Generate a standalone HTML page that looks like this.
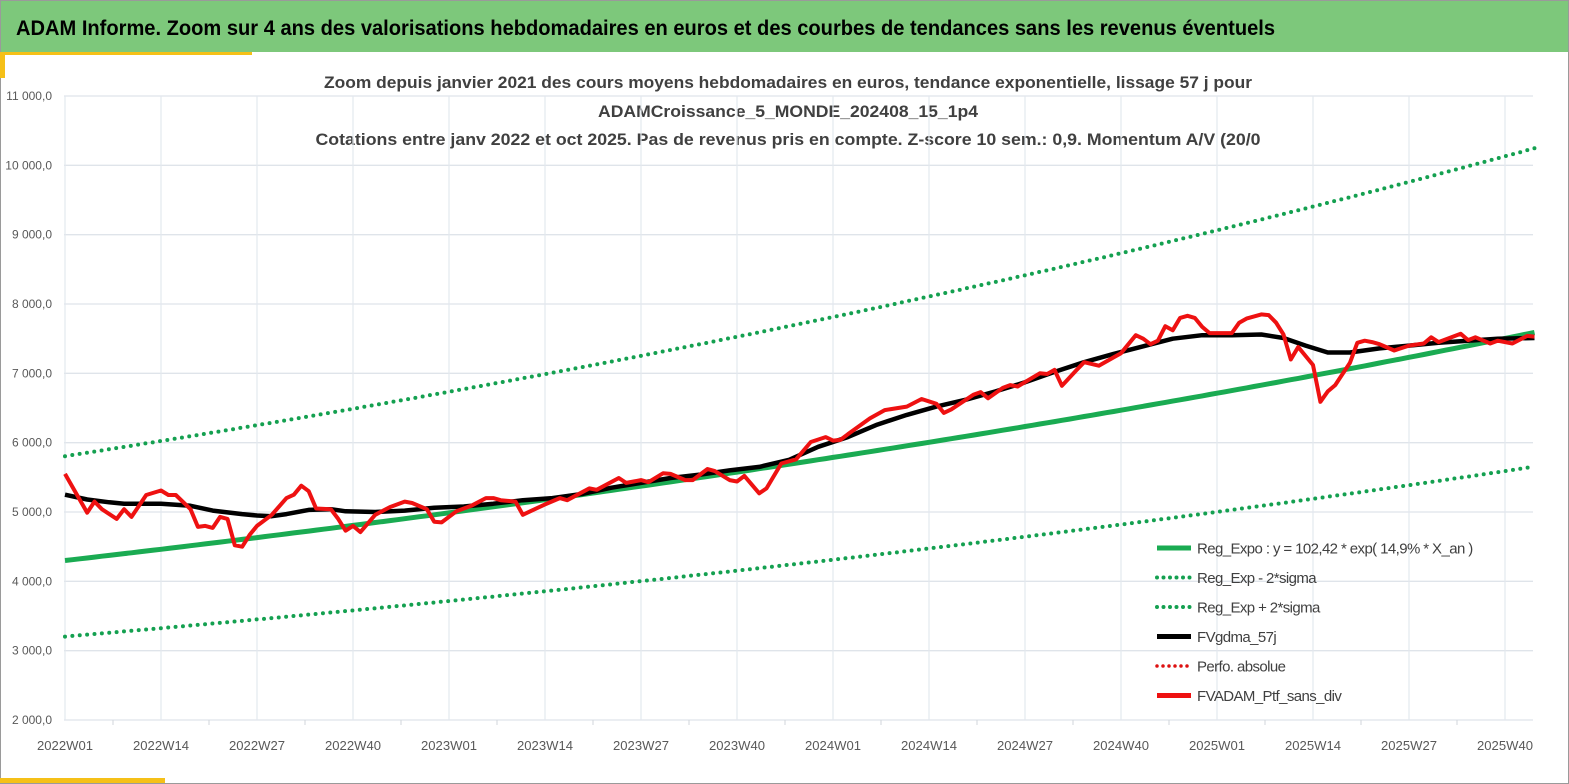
<!DOCTYPE html>
<html><head><meta charset="utf-8"><style>
html,body{margin:0;padding:0;background:#fff;}
svg{display:block;font-family:"Liberation Sans",sans-serif;}
</style></head><body>
<svg id="chart" width="1569" height="784" viewBox="0 0 1569 784">
<rect x="0.5" y="0.5" width="1568" height="783" fill="#fff" stroke="#9a9a9a"/>
<rect x="1" y="1" width="1567" height="51" fill="#7dc87b"/>
<text x="16" y="35" font-size="21" font-weight="bold" fill="#000" textLength="1259" lengthAdjust="spacingAndGlyphs">ADAM Informe. Zoom sur 4 ans des valorisations hebdomadaires en euros et des courbes de tendances sans les revenus éventuels</text>
<rect x="0" y="52" width="252" height="3" fill="#f5c018"/>
<rect x="0" y="52" width="5" height="26" fill="#f5c018"/>
<rect x="0" y="778" width="165" height="5" fill="#f5c018"/>
<g fill="#404040" font-weight="bold" font-size="16.5" text-anchor="middle">
<text x="788" y="88" textLength="928" lengthAdjust="spacingAndGlyphs">Zoom depuis janvier 2021 des cours moyens hebdomadaires  en euros, tendance exponentielle, lissage 57 j pour</text>
<text x="788" y="117" textLength="380" lengthAdjust="spacingAndGlyphs">ADAMCroissance_5_MONDE_202408_15_1p4</text>
<text x="788" y="145" textLength="945" lengthAdjust="spacingAndGlyphs">Cotations entre janv 2022 et oct 2025. Pas de revenus pris en compte. Z-score 10 sem.: 0,9. Momentum A/V (20/0</text>
</g>
<g id="grid"></g>
<g id="axes"></g>
<g id="series"></g>
<g id="legend"></g>
</svg>
<script>
const yTicks=[2000,3000,4000,5000,6000,7000,8000,9000,10000,11000];
const yTickLabels=["2 000,0","3 000,0","4 000,0","5 000,0","6 000,0","7 000,0","8 000,0","9 000,0","10 000,0","11 000,0"];
const xTickWeeks=[0,13,26,39,52,65,78,91,104,117,130,143,156,169,182,195];
const xTickLabels=["2022W01","2022W14","2022W27","2022W40","2023W01","2023W14","2023W27","2023W40","2024W01","2024W14","2024W27","2024W40","2025W01","2025W14","2025W27","2025W40"];
const lastWeek=199;
const regBase=[4300];
const regRatePerYear=[0.149];
const bandUpFactor=[1.35];
const bandLowFactor=[0.745];
const redWeeks=[0,3,4,5,7,8,9,11,13,14,15,17,18,19,20,21,22,23,24,25,26,28,30,31,32,33,34,36,37,38,39,40,42,44,46,47,49,50,51,53,55,57,58,59,61,62,63,65,67,68,71,72,75,76,78,79,81,82,84,85,87,88,90,91,92,94,95,97,99,101,103,104,105,106,109,111,114,116,118,119,120,123,124,125,127,128,129,132,133,134,135,137,138,140,142,143,145,146,147,148,149,150,151,152,153,154,155,158,159,160,162,163,164,165,166,167,169,170,171,172,174,175,176,177,178,180,182,184,185,186,189,190,191,193,194,196,198,199];
const redValues=[5550,4990,5150,5040,4900,5040,4930,5245,5310,5245,5245,5040,4785,4800,4770,4930,4900,4520,4500,4670,4800,4960,5200,5250,5380,5300,5050,5040,4900,4730,4800,4710,4960,5070,5150,5130,5040,4860,4850,5010,5090,5200,5200,5170,5150,4960,5010,5110,5200,5170,5340,5320,5490,5420,5460,5430,5560,5550,5460,5460,5620,5590,5460,5440,5520,5270,5340,5700,5760,6010,6080,6030,6040,6120,6350,6470,6520,6630,6560,6430,6480,6690,6730,6640,6790,6830,6810,7000,6990,7050,6820,7050,7160,7110,7230,7290,7550,7500,7420,7470,7680,7620,7800,7830,7800,7670,7580,7580,7730,7790,7850,7840,7730,7560,7200,7380,7120,6590,6740,6830,7150,7440,7470,7450,7420,7330,7400,7430,7520,7450,7570,7480,7520,7430,7470,7430,7540,7530];
const maWeeks=[0,3,6,8,13,17,20,24,26,28,30,33,36,38,42,46,50,54,58,62,66,70,74,78,82,86,90,94,98,102,106,110,114,118,122,126,130,134,138,142,146,150,154,158,162,165,168,171,174,178,182,186,190,194,199];
const maValues=[5250,5180,5140,5120,5120,5090,5020,4970,4950,4940,4970,5030,5040,5010,5000,5020,5060,5080,5120,5170,5200,5260,5350,5420,5490,5540,5600,5650,5750,5940,6080,6260,6400,6520,6620,6740,6870,7020,7160,7280,7390,7500,7550,7550,7560,7510,7400,7300,7300,7360,7400,7440,7470,7500,7510];
const legendLabels=["Reg_Expo : y = 102,42 * exp( 14,9% *  X_an )","Reg_Exp - 2*sigma","Reg_Exp + 2*sigma","FVgdma_57j","Perfo. absolue","FVADAM_Ptf_sans_div"];

const NS="http://www.w3.org/2000/svg";
const X0=65, PX_PER_WEEK=96/13, PL=64, PR=1533, PT=96, PB=720;
function xs(w){return X0+w*PX_PER_WEEK;}
function ys(v){return PB-(v-2000)/9000*(PB-PT);}
function mk(tag,attrs,parent){const e=document.createElementNS(NS,tag);for(const k in attrs)e.setAttribute(k,attrs[k]);parent.appendChild(e);return e;}
const grid=document.getElementById('grid'),axes=document.getElementById('axes'),series=document.getElementById('series'),legend=document.getElementById('legend');

yTicks.forEach((v,i)=>{
  const l=mk('line',{x1:PL,x2:PR,y1:ys(v),y2:ys(v),stroke:'#dfe4ea','stroke-width':1.3},grid);
  
  
  const t=mk('text',{x:52,y:ys(v)+4,'text-anchor':'end','font-size':12,fill:'#595959'},axes);
  t.textContent=yTickLabels[i];
  
  
});
xTickWeeks.forEach((w,i)=>{
  const l=mk('line',{x1:xs(w),x2:xs(w),y1:PT,y2:PB,stroke:'#e3e8ee','stroke-width':1.2},grid);
  
  
  if(xs(w+6.5)<PR){
    const m=mk('line',{x1:xs(w+6.5),x2:xs(w+6.5),y1:PB,y2:PB+5,stroke:'#d0d5db','stroke-width':1},grid);
    
    
  }
  const t=mk('text',{x:xs(w),y:750,'text-anchor':'middle','font-size':12.5,fill:'#595959',textLength:56,lengthAdjust:'spacingAndGlyphs'},axes);
  t.textContent=xTickLabels[i];
  
  
});

function regVal(w,f){return regBase[0]*f*Math.exp(regRatePerYear[0]*w/52.18);}
function regPts(f){const p=[];for(let w=0;w<=lastWeek;w++)p.push(xs(w).toFixed(1)+','+ys(regVal(w,f)).toFixed(1));return p.join(' ');}
const dot={fill:'none',stroke:'#14a050','stroke-width':4,'stroke-linecap':'round','stroke-dasharray':'0 7.4'};
const up=mk('polyline',Object.assign({points:regPts(bandUpFactor[0])},dot),series);


const lo=mk('polyline',Object.assign({points:regPts(bandLowFactor[0])},dot),series);


const reg=mk('polyline',{points:regPts(1),fill:'none',stroke:'#1aab52','stroke-width':5,'stroke-linejoin':'round'},series);


const ma=mk('polyline',{points:maWeeks.map((w,i)=>xs(w).toFixed(1)+','+ys(maValues[i]).toFixed(1)).join(' '),fill:'none',stroke:'#000','stroke-width':4.5,'stroke-linejoin':'round'},series);


const red=mk('polyline',{points:redWeeks.map((w,i)=>xs(w).toFixed(1)+','+ys(redValues[i]).toFixed(1)).join(' '),fill:'none',stroke:'#ee1111','stroke-width':4,'stroke-linejoin':'round'},series);



const legStyles=[
 {stroke:'#1aab52','stroke-width':5},
 {stroke:'#14a050','stroke-width':4,'stroke-linecap':'round','stroke-dasharray':'0 6.5'},
 {stroke:'#14a050','stroke-width':4,'stroke-linecap':'round','stroke-dasharray':'0 6.5'},
 {stroke:'#000','stroke-width':5},
 {stroke:'#dd1111','stroke-width':3.5,'stroke-linecap':'round','stroke-dasharray':'0 6'},
 {stroke:'#ee1111','stroke-width':5}];
legendLabels.forEach((lab,i)=>{
  const y=548+i*29.5;
  const g=mk('g',{},legend);
  
  
  mk('line',Object.assign({x1:1157,x2:1191,y1:y,y2:y,fill:'none'},legStyles[i]),g);
  const t=mk('text',{x:1197,y:y+5.5,'font-size':15,fill:'#404040','letter-spacing':'-0.6'},g);
  t.textContent=lab;
});
</script>
</body></html>
